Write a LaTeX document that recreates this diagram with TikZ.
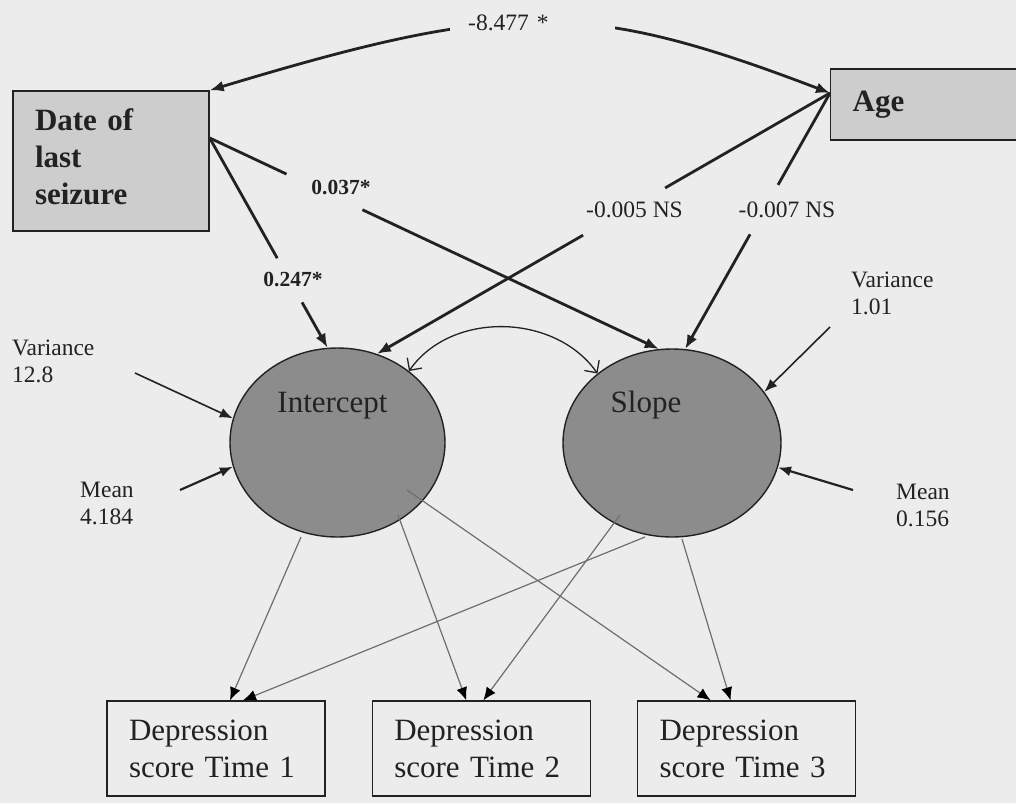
\documentclass[tikz,border=0pt]{standalone}
\usepackage{fontspec}
\setmainfont{Liberation Serif}
\usetikzlibrary{arrows.meta,positioning,shapes.geometric,calc}
\definecolor{bg}{HTML}{ECECEC}
\definecolor{boxgray}{HTML}{CDCDCD}
\definecolor{latgray}{HTML}{8C8C8C}
\definecolor{ink}{HTML}{222222}
\definecolor{thinline}{HTML}{6E6E6E}
\begin{document}
\begin{tikzpicture}[x=1pt, y=1pt, text=ink, node distance=46pt,
  obs/.style={draw=ink, line width=1.4pt, fill=boxgray, align=left, inner xsep=22pt, font=\fontsize{31}{37}\selectfont\bfseries},
  dep/.style={draw=ink, line width=1.3pt, align=left, inner xsep=22pt, text width=174pt, minimum height=95pt, font=\fontsize{31}{37}\selectfont},
  latent/.style={ellipse, draw=ink, line width=1.4pt, fill=latgray, inner sep=0pt},
  lab/.style={align=left, inner sep=0pt, font=\fontsize{23.5}{27}\selectfont},
  coef/.style={inner sep=0pt, font=\fontsize{23.5}{27}\selectfont},
  bcoef/.style={inner sep=0pt, font=\fontsize{21.5}{26}\selectfont\bfseries},
  reg/.style={draw=ink, line width=2.8pt},
  tip/.style={-{Latex[length=14pt,width=11pt]}},
  loading/.style={draw=thinline, line width=1.2pt, -{Latex[length=13pt,width=11pt,color=black]}},
  param/.style={draw=ink, line width=1.6pt, -{Latex[length=13pt,width=10pt]}},
  cov/.style={draw=ink, line width=1.3pt, {Straight Barb[length=9pt,width=18pt]}-{Straight Barb[length=9pt,width=18pt]}}]
\useasboundingbox (0,0) rectangle (1016,-803);
\fill[bg] (0,0) rectangle (1016,-803);
\node[obs, text width=152pt, minimum height=140pt, text depth=83pt] (date) at (111,-161) {Date of\\last\\seizure};
\node[obs, anchor=west, text width=180pt, minimum height=71pt] (age) at (830,-104.5) {Age};
\node[latent, minimum width=215pt, minimum height=189pt,
  label={[anchor=base, xshift=-5pt, yshift=-65pt, font=\fontsize{31}{37}\selectfont]north:Intercept}] (icpt) at (337.5,-442.5) {};
\node[latent, minimum width=218pt, minimum height=188pt,
  label={[anchor=base, xshift=-26pt, yshift=-64pt, font=\fontsize{31}{37}\selectfont]north:Slope}] (slope) at (672,-443) {};
\node[dep] (dep1) at (216,-748.5) {Depression\\score Time 1};
\node[dep, right=of dep1] (dep2) {Depression\\score Time 2};
\node[dep, right=of dep2] (dep3) {Depression\\score Time 3};
\node[bcoef] (c247) at (293,-279) {0.247*};
\node[bcoef] (c037) at (341,-187) {0.037*};
\node[coef] (c005) at (634.5,-210) {-0.005 NS};
\node[coef] (c007) at (787,-210) {-0.007 NS};
\node[lab, anchor=west] (v12) at (12,-361) {Variance\\12.8};
\node[lab, anchor=west] (m4) at (80,-503.5) {Mean\\4.184};
\node[lab, anchor=west] (v101) at (851,-293.5) {Variance\\1.01};
\node[lab, anchor=west] (m0156) at (896,-505) {Mean\\0.156};
\coordinate (dpt) at ([yshift=23pt]date.east);
\coordinate (apt) at ([yshift=11.5pt]age.west);
\coordinate (v12e) at (135,-373);
\coordinate (m4e) at (180,-490);
\coordinate (v101e) at (830,-327);
\coordinate (m0156e) at (853,-490);
\draw[reg, {Latex[length=14pt,width=11pt]}-{Latex[length=14pt,width=11pt]}] (date.north east) .. controls (509,0) and (586,0) .. node[pos=.485, fill=bg, text width=129pt, inner xsep=18pt, inner ysep=8pt, align=left, font=\fontsize{23.5}{27}\selectfont] (c8477) {-8.477 *} (apt);
\draw[reg] (dpt) -- ($(dpt)!.573!(icpt.96)$);
\draw[reg, tip] ($(dpt)!.784!(icpt.96)$) -- (icpt.96);
\draw[reg] (dpt) -- ($(dpt)!.171!(slope.98)$);
\draw[reg, tip] ($(dpt)!.340!(slope.98)$) -- (slope.98);
\draw[reg] (apt) -- ($(apt)!.364!(icpt.66)$);
\draw[reg, tip] ($(apt)!.545!(icpt.66)$) -- (icpt.66);
\draw[reg] (apt) -- ($(apt)!.359!(slope.82)$);
\draw[reg, tip] ($(apt)!.552!(slope.82)$) -- (slope.82);
\draw[cov] (icpt.45) to[out=55, in=125] (slope.137);
\draw[param] (v12e) -- (icpt.167);
\draw[param, line width=2.2pt] (m4e) -- (icpt.193);
\draw[param] (v101e) -- (slope.29);
\draw[param, line width=2.2pt] (m0156e) -- (slope.-13);
\draw[loading] ($(icpt.center)+(-36.5,-94.5)$) -- ([xshift=14pt]dep1.north);
\draw[loading] ($(slope.center)+(-27,-94)$) -- ([xshift=27pt]dep1.north);
\draw[loading] ($(icpt.center)+(60.5,-72.5)$) -- ([xshift=-15pt]dep2.north);
\draw[loading] ($(slope.center)+(-52,-72)$) -- ([xshift=2pt]dep2.north);
\draw[loading] ($(icpt.center)+(69.5,-47.5)$) -- ([xshift=-36pt]dep3.north);
\draw[loading] ($(slope.center)+(10,-96)$) -- ([xshift=-16pt]dep3.north);
\end{tikzpicture}
\end{document}
